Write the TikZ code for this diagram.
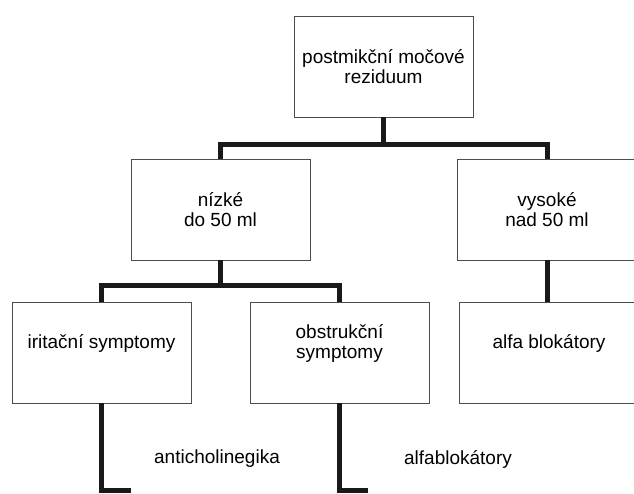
\documentclass[tikz,border=0pt]{standalone}
\usepackage{fontspec}
\setmainfont{Liberation Sans}
\usetikzlibrary{calc}
\tikzset{
  box/.style= {draw=black!70, line width=0.8pt, minimum width=179pt, minimum height=101pt, inner sep=0, align=center},
  lowbox/.style= {box, text depth=22pt},
  conn/.style= {line width=5pt, color=black!90},
  txt/.style= {font=\fontsize{19}{20.5}\selectfont},
}

\begin{document}
\begin{tikzpicture}[x=1pt, y=-1pt, every node/.style={txt}]
  \useasboundingbox (0,0) rectangle (634,493);
  \node [box] (pmr) at (383.5,66.4) {postmikční močové\\reziduum} ;
  \node [box] (nizke) at (220.5,209.5) {nízké\\do 50 ml} ;
  \node [box, minimum width=180pt] (vysoke) at (547,209.5) {vysoké\\nad 50 ml} ;
  \node [lowbox] (irit) at (101.5,352.5) {iritační symptomy} ;
  \node [lowbox] (obst) at (339.5,352.5) {obstrukční\\symptomy} ;
  \node [lowbox] (alfa) at (549,352.5) {alfa blokátory} ;
  \node (anti) at (217,459) {anticholinegika} ;
  \node (ablok) at (458,459) {alfablokátory} ;

  \coordinate (j1) at (383.5,144.5) ;
  \coordinate (j2) at (220.5,285) ;
  \coordinate (e1) at (131,490) ;
  \coordinate (e2) at (368,490) ;

  \draw [conn] (pmr.south) -- (j1) ;
  \draw [conn] (nizke.north) |- (j1) -| (vysoke.north) ;
  \draw [conn] (nizke.south) -- (j2) ;
  \draw [conn] (irit.north) |- (j2) -| (obst.north) ;
  \draw [conn] (vysoke.south) -- (vysoke.south |- alfa.north) ;
  \draw [conn] (irit.south) |- (e1) ;
  \draw [conn] (obst.south) |- (e2) ;
\end{tikzpicture}
\end{document}
